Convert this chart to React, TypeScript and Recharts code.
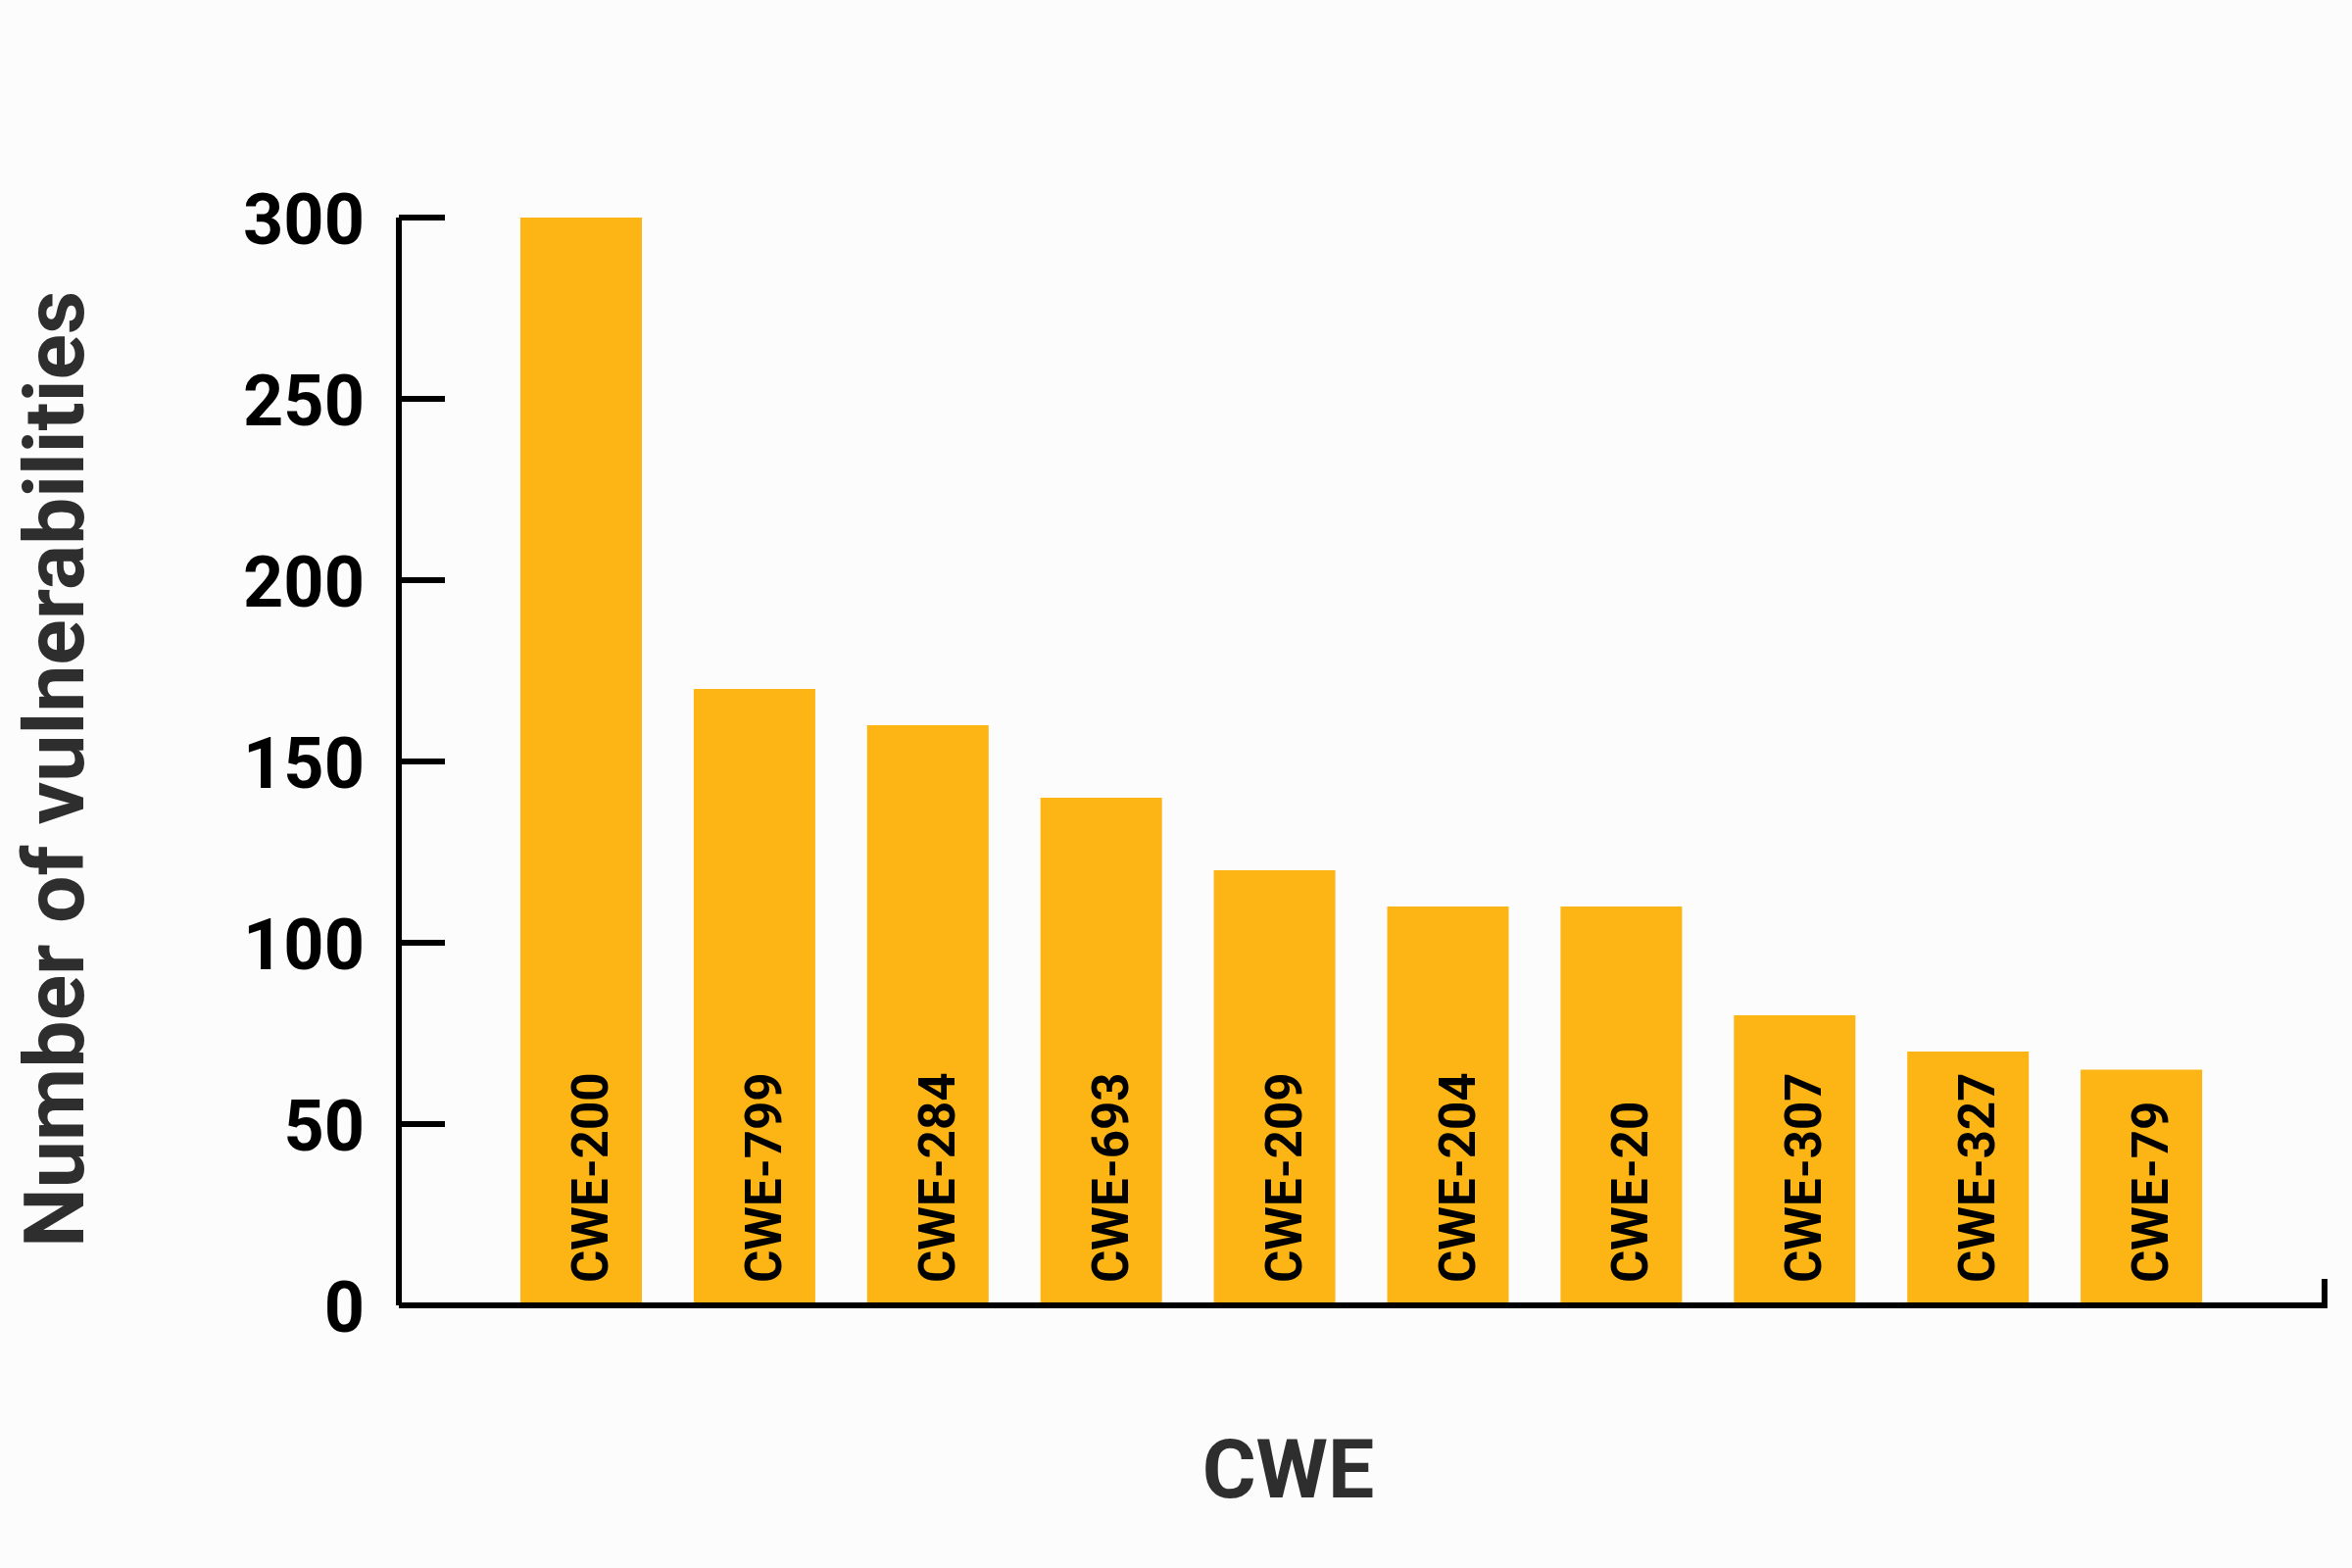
import React from 'react';
import { BarChart, Bar, XAxis, YAxis, LabelList } from 'recharts';

const categories = ['CWE-200', 'CWE-799', 'CWE-284', 'CWE-693', 'CWE-209', 'CWE-204', 'CWE-20', 'CWE-307', 'CWE-327', 'CWE-79'];
const counts = [300, 170, 160, 140, 120, 110, 110, 80, 70, 65];
const yTicks = [0, 50, 100, 150, 200, 250, 300];

const data = categories.map((name, i) => ({ name, value: counts[i] }));

const FONT = 'Roboto, "DejaVu Sans", sans-serif';

const YTick = (props: any) => {
  const { x, y, payload } = props;
  return (
    <g>
      <line x1={x + 35} x2={x + 35 + 47} y1={y} y2={y} stroke="#000" strokeWidth={6} />
      <text x={x} y={y} dy={27} textAnchor="end" fontFamily={FONT} fontWeight={700} fontSize={72} fill="#000">
        {payload.value}
      </text>
    </g>
  );
};

const BarLabel = (props: any) => {
  const vb = props.viewBox && props.viewBox.width !== undefined ? props.viewBox : props;
  const { x, y, width, height } = vb;
  const cx = x + width / 2 + 27;
  const by = y + height - 23;
  return (
    <text
      x={cx}
      y={by}
      transform={`rotate(-90, ${cx}, ${by})`}
      textAnchor="start"
      fontFamily={FONT}
      fontWeight={700}
      fontSize={51}
      fill="#000"
    >
      {props.value}
    </text>
  );
};

const XLabel = (props: any) => {
  const vb = props.viewBox;
  const tx = vb.x + vb.width / 2 - 75;
  const ty = vb.y + 196;
  const ex = vb.x + vb.width;
  return (
    <g>
      <line x1={ex} x2={ex} y1={vb.y + 3} y2={vb.y - 27} stroke="#000" strokeWidth={6} />
      <text x={tx} y={ty} textAnchor="middle" fontFamily={FONT} fontWeight={700} fontSize={84} fill="#2e2e2e">
        CWE
      </text>
    </g>
  );
};

const YLabel = (props: any) => {
  const vb = props.viewBox;
  const tx = 85;
  const ty = vb.y + vb.height / 2 + 8;
  return (
    <text
      x={tx}
      y={ty}
      transform={`rotate(-90, ${tx}, ${ty})`}
      textAnchor="middle"
      fontFamily={FONT}
      fontWeight={700}
      fontSize={86}
      fill="#2e2e2e"
    >
      Number of vulnerabilities
    </text>
  );
};

export default function App() {
  return (
    <div style={{ position: 'absolute', left: 0, top: 0, width: 2400, height: 1600, background: '#fcfcfc' }}>
      <BarChart
        width={2400}
        height={1600}
        data={data}
        margin={{ top: 222, right: 28, bottom: 168, left: 207 }}
      >
        <XAxis
          dataKey="name"
          type="category"
          tick={false}
          tickLine={false}
          height={100}
          padding={{ left: 98, right: 98 }}
          axisLine={{ stroke: '#000', strokeWidth: 6 }}
          label={<XLabel />}
        />
        <YAxis
          width={200}
          domain={[0, 300]}
          ticks={yTicks}
          interval={0}
          tickLine={false}
          tickSize={0}
          tickMargin={35}
          tick={<YTick />}
          axisLine={{ stroke: '#000', strokeWidth: 6 }}
          label={<YLabel />}
        />
        <Bar dataKey="value" fill="#FDB515" barSize={124} isAnimationActive={false}>
          <LabelList dataKey="name" content={<BarLabel />} />
        </Bar>
      </BarChart>
    </div>
  );
}
